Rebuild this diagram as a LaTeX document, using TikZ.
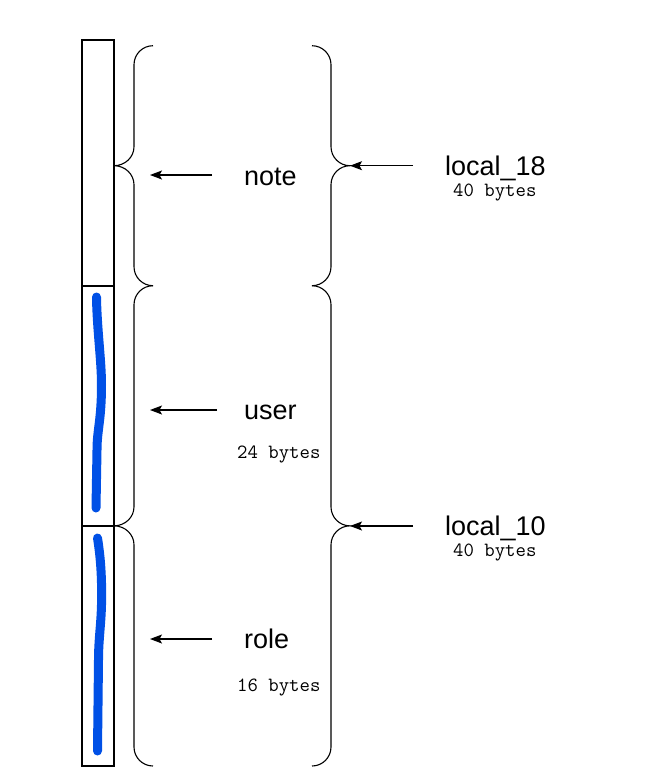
\documentclass[tikz,border=0pt]{standalone}
\usepackage{fontspec}
\setmainfont{Liberation Sans}
\usepackage{tikz}
\usetikzlibrary{positioning,arrows.meta}
\usepackage{xcolor}
\definecolor{inkblue}{RGB}{0,80,230}

% curly brace: tip x, spine x, end x, top y, bottom y
\newcommand{\curlypath}[5]{%
  \draw[brace] (#3,#4) .. controls ({#3+0.552*(#2-#3)},#4) and (#2,{#4+8.5}) .. (#2,{#4+19})
    -- (#2,{(#4+#5)/2-19}) .. controls (#2,{(#4+#5)/2-8.5}) and ({#2+0.448*(#1-#2)},{(#4+#5)/2}) .. (#1,{(#4+#5)/2})
    .. controls ({#2+0.448*(#1-#2)},{(#4+#5)/2}) and (#2,{(#4+#5)/2+8.5}) .. (#2,{(#4+#5)/2+19})
    -- (#2,{#5-19}) .. controls (#2,{#5-8.5}) and ({#3+0.552*(#2-#3)},#5) .. (#3,#5);}

\begin{document}
\begin{tikzpicture}[x=1pt,y=-1pt,>={Stealth[length=12pt,width=9pt,inset=2.5pt]},
  brace/.style={line width=1.1pt},
  field/.style={font=\fontsize{27}{32}\selectfont,inner sep=0pt,anchor=base west},
  size/.style={font=\ttfamily\fontsize{20.2}{22}\selectfont,inner sep=0pt,anchor=base west},
  pointer/.style={->,line width=1.1pt},
  scribble/.style={inkblue,line width=9pt,line cap=round,line join=round}]
\useasboundingbox (0,0) rectangle (650,780);
\draw[line width=1.1pt] (82,40) rectangle (114,766);
\draw[line width=1.1pt] (82,286) -- (114,286);
\draw[line width=1.1pt] (82,526) -- (114,526);
\draw[scribble] (96.5,297) .. controls (97,330) and (101.5,360) .. (101.5,385)
  .. controls (101.5,420) and (97,430) .. (97,450) -- (96,508);
\draw[scribble] (97.5,538) .. controls (101,560) and (102,580) .. (101.5,605)
  .. controls (101,625) and (98.5,640) .. (98.5,660) -- (97.5,751);
\curlypath{114}{134}{153}{45.7}{285.7}
\curlypath{114}{134}{153}{285.7}{766}
\curlypath{350}{331}{312}{45.7}{285.7}
\curlypath{350}{331}{312}{285.7}{766}
\coordinate (tip18) at (350,165.7);
\coordinate (tip10) at (350,526);
\node[field] (note) at (244,185) {note};
\node[field] (user) at (244,419) {user};
\node[field] (role) at (244,648) {role};
\node[size] (userSize) at (237,458) {24 bytes};
\node[size] (roleSize) at (237,691.5) {16 bytes};
\node[field] (local18) at (445,175) {local\_18};
\node[size] (local18Size) at (453,196.5) {40 bytes};
\node[field] (local10) at (445,535) {local\_10};
\node[size] (local10Size) at (453,556.5) {40 bytes};
\coordinate (noteTail) at (212,175);
\coordinate (noteHead) at (150,175);
\coordinate (userTail) at (217,410);
\coordinate (userHead) at (150,410);
\coordinate (roleTail) at (212,639);
\coordinate (roleHead) at (150,639);
\coordinate (tail18) at (413,165.7);
\coordinate (tail10) at (413,526);
\draw[pointer] (noteTail) -- (noteHead);
\draw[pointer] (userTail) -- (userHead);
\draw[pointer] (roleTail) -- (roleHead);
\draw[pointer] (tail18) -- (tip18);
\draw[pointer] (tail10) -- (tip10);
\end{tikzpicture}
\end{document}
